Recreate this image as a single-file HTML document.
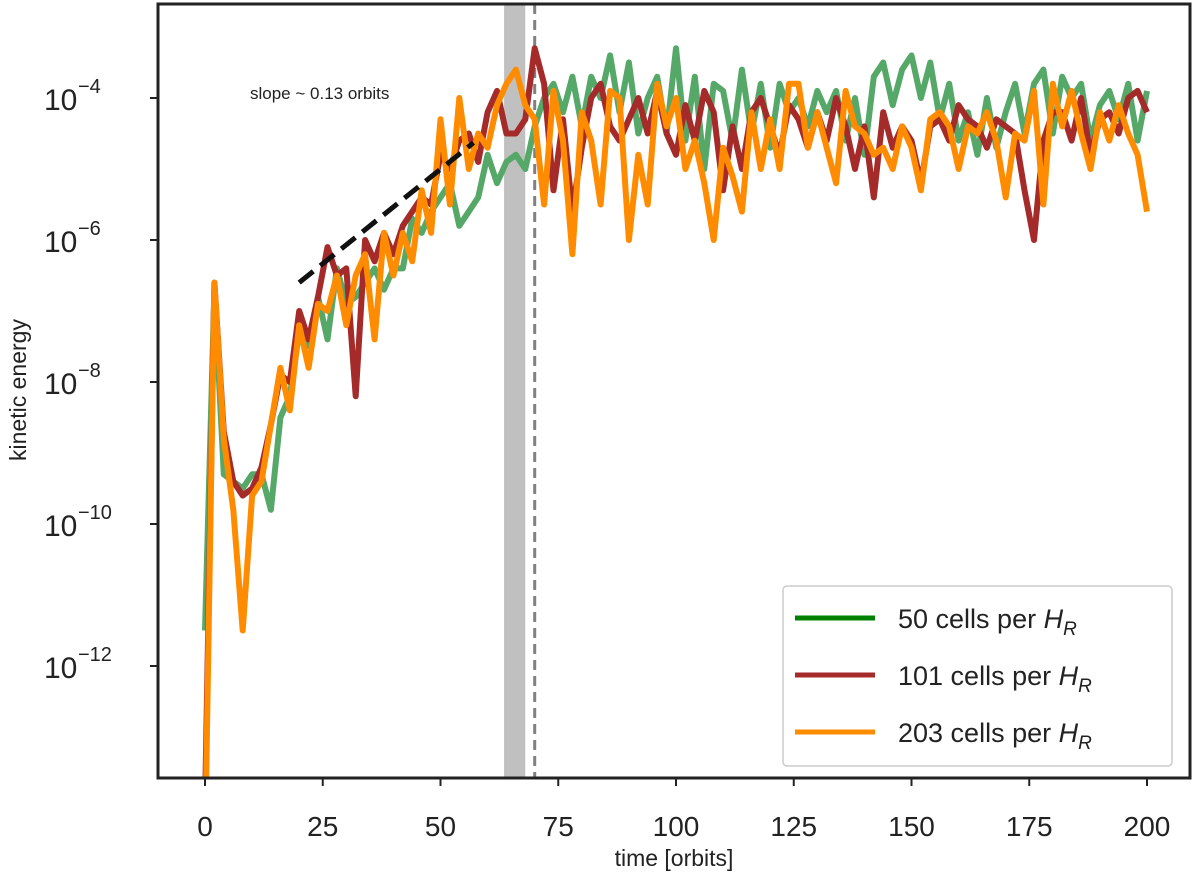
<!DOCTYPE html>
<html><head><meta charset="utf-8"><style>
body{margin:0;background:#fff}
svg text{font-family:"Liberation Sans","DejaVu Sans",sans-serif}
</style></head><body>
<svg id="chart" width="1200" height="890" xmlns="http://www.w3.org/2000/svg">
<g id="plot"></g>
</svg>
<script>
const times=[];for(let t=0;t<=200;t+=2)times.push(t);
const green50=[-11.5,-6.7,-9.3,-9.4,-9.5,-9.3,-9.3,-9.8,-8.5,-8.2,-7.3,-7.5,-6.8,-7.4,-6.4,-6.9,-6.8,-6.6,-6.4,-6.7,-6.4,-6.4,-5.7,-5.9,-5.6,-5.4,-5.2,-5.8,-5.6,-5.4,-4.8,-5.2,-4.9,-4.8,-5.0,-4.4,-4.0,-3.8,-4.2,-3.7,-4.4,-3.7,-4.0,-3.4,-4.2,-3.5,-4.5,-4.0,-3.7,-4.5,-3.3,-4.6,-3.7,-5.0,-3.8,-3.9,-4.6,-3.6,-4.5,-3.8,-4.7,-3.8,-4.2,-4.0,-4.4,-3.9,-4.2,-3.9,-4.6,-4.0,-4.8,-3.7,-3.5,-4.1,-3.6,-3.4,-4.0,-3.5,-4.3,-3.8,-4.6,-4.2,-4.8,-4.0,-4.7,-4.2,-3.8,-4.5,-3.8,-3.6,-4.5,-3.7,-4.0,-3.8,-4.6,-4.1,-3.9,-4.3,-3.8,-4.6,-3.9];
const red101=[-14,-6.6,-8.7,-9.4,-9.6,-9.5,-9.2,-8.6,-7.9,-8.0,-7.0,-7.4,-6.8,-6.1,-6.5,-6.4,-8.2,-6.0,-6.3,-5.9,-6.2,-5.8,-5.6,-5.4,-5.5,-4.8,-5.0,-4.6,-4.5,-4.9,-4.2,-3.9,-4.5,-4.5,-4.3,-3.3,-3.8,-5.3,-4.3,-5.6,-4.7,-4.0,-3.8,-4.4,-4.6,-4.3,-4.0,-4.5,-3.9,-4.5,-4.8,-4.1,-4.6,-3.9,-4.2,-5.3,-4.4,-5.0,-4.2,-4.0,-4.4,-4.8,-4.1,-4.3,-4.7,-4.2,-4.6,-4.0,-4.4,-5.0,-4.4,-5.4,-4.2,-4.7,-4.4,-4.6,-5.2,-4.4,-4.3,-4.6,-4.1,-4.3,-4.4,-4.7,-4.3,-4.4,-4.5,-5.3,-6.0,-4.6,-4.2,-4.2,-4.6,-4.0,-4.8,-4.3,-4.2,-4.5,-4.0,-3.9,-4.2];
const orange203=[-14.6,-6.6,-8.8,-9.8,-11.5,-9.6,-9.4,-8.6,-7.8,-8.4,-7.2,-7.8,-6.9,-7.0,-6.5,-7.2,-6.5,-6.2,-7.4,-5.9,-6.5,-5.9,-6.3,-5.3,-5.9,-4.3,-5.5,-4.0,-5.0,-4.5,-4.7,-4.1,-3.8,-3.6,-4.1,-4.3,-5.5,-3.9,-4.6,-6.2,-4.2,-4.6,-5.5,-3.9,-4.0,-6.0,-4.8,-5.5,-3.8,-4.4,-4.0,-5.0,-4.6,-5.2,-6.0,-4.7,-5.1,-5.6,-4.2,-5.0,-4.3,-5.0,-3.8,-3.8,-4.7,-4.2,-4.7,-5.2,-3.9,-4.4,-4.5,-4.8,-4.7,-5.0,-4.4,-4.7,-5.3,-4.3,-4.2,-4.4,-5.0,-4.4,-4.5,-4.2,-4.6,-5.4,-4.5,-4.6,-3.9,-5.5,-3.8,-4.4,-3.9,-4.5,-5.0,-4.2,-4.6,-4.1,-4.5,-4.8,-5.6];
const xTicks=[0,25,50,75,100,125,150,175,200];
const yTicks=[-12,-10,-8,-6,-4];
const fitT=[20,57];const fitLog=[-6.6,-4.63];
const legendLabels=["50 cells per ","101 cells per ","203 cells per "];
const colors=["#55a868","#a52a2a","#ff8c00"];
const legendColors=["#008000","#a52a2a","#ff8c00"];

const L=158,R=1190,T=4,B=778;
const X=t=>205+(t)*(1147-205)/200;
const Y=l=>98+(-4-l)*71;
const NS="http://www.w3.org/2000/svg";
const g=document.getElementById('plot');
function el(tag,attrs,parent){const e=document.createElementNS(NS,tag);for(const k in attrs)e.setAttribute(k,attrs[k]);(parent||g).appendChild(e);return e;}
const clip=el('clipPath',{id:'c'});el('rect',{x:L,y:T,width:R-L,height:B-T},clip);
const band=el('rect',{x:X(63.5),y:T,width:X(68)-X(63.5),height:B-T,fill:'#c0c0c0'});


const vl=el('line',{x1:X(70),x2:X(70),y1:T,y2:B,stroke:'#808080','stroke-width':3,'stroke-dasharray':'10,6'});


const series=[green50,red101,orange203];
const names=['series-50-cells','series-101-cells','series-203-cells'];
series.forEach((s,i)=>{
  const d=s.map((v,j)=>(j?'L':'M')+X(times[j]).toFixed(1)+' '+Y(v).toFixed(1)).join(' ');
  const p=el('path',{d,fill:'none',stroke:colors[i],'stroke-width':6,'stroke-linejoin':'round','clip-path':'url(#c)'});
  
  
});
const fit=el('line',{x1:X(fitT[0]),y1:Y(fitLog[0]),x2:X(fitT[1]),y2:Y(fitLog[1]),stroke:'#111','stroke-width':5,'stroke-dasharray':'18,9'});


const ann=el('text',{x:250,y:99,'font-size':17,fill:'#222'});ann.textContent='slope ~ 0.13 orbits';


const fr=el('rect',{x:L,y:T,width:R-L,height:B-T,fill:'none',stroke:'#222','stroke-width':3});


xTicks.forEach(t=>{
  const tk=el('line',{x1:X(t),x2:X(t),y1:B,y2:B+8,stroke:'#222','stroke-width':2});
  
  
  const tx=el('text',{x:X(t),y:B+58,'font-size':28,'text-anchor':'middle',fill:'#222'});tx.textContent=t;
  
  
});
yTicks.forEach(v=>{
  const tk=el('line',{x1:L-8,x2:L,y1:Y(v),y2:Y(v),stroke:'#222','stroke-width':2});
  
  
  const tx=el('text',{x:44,y:Y(v)+12,'font-size':30,fill:'#222'});tx.textContent='10';
  
  
  const sp=el('text',{x:78,y:Y(v)-5,'font-size':20,fill:'#222'});sp.textContent='\u2212'+(-v);
  
  
});
const xl=el('text',{x:674,y:866,'font-size':23,'text-anchor':'middle',fill:'#222'});xl.textContent='time [orbits]';


const yl=el('text',{x:26,y:390,'font-size':23,'text-anchor':'middle',fill:'#222',transform:'rotate(-90 26 390)'});yl.textContent='kinetic energy';


const lg=el('rect',{x:783,y:586,width:389,height:180,rx:4,fill:'#fff',stroke:'#ccc','stroke-width':1.5});


legendLabels.forEach((lab,i)=>{
  const y=618+i*57;
  const ln=el('line',{x1:795,x2:875,y1:y,y2:y,stroke:legendColors[i],'stroke-width':5});
  
  
  const tx=el('text',{x:898,y:y+10,'font-size':27,fill:'#222'});
  tx.textContent=lab;
  const h=el('tspan',{'font-style':'italic'},tx);h.textContent='H';
  const s=el('tspan',{'font-style':'italic','font-size':19,dy:7},tx);s.textContent='R';
  
  
});
</script>
</body></html>
